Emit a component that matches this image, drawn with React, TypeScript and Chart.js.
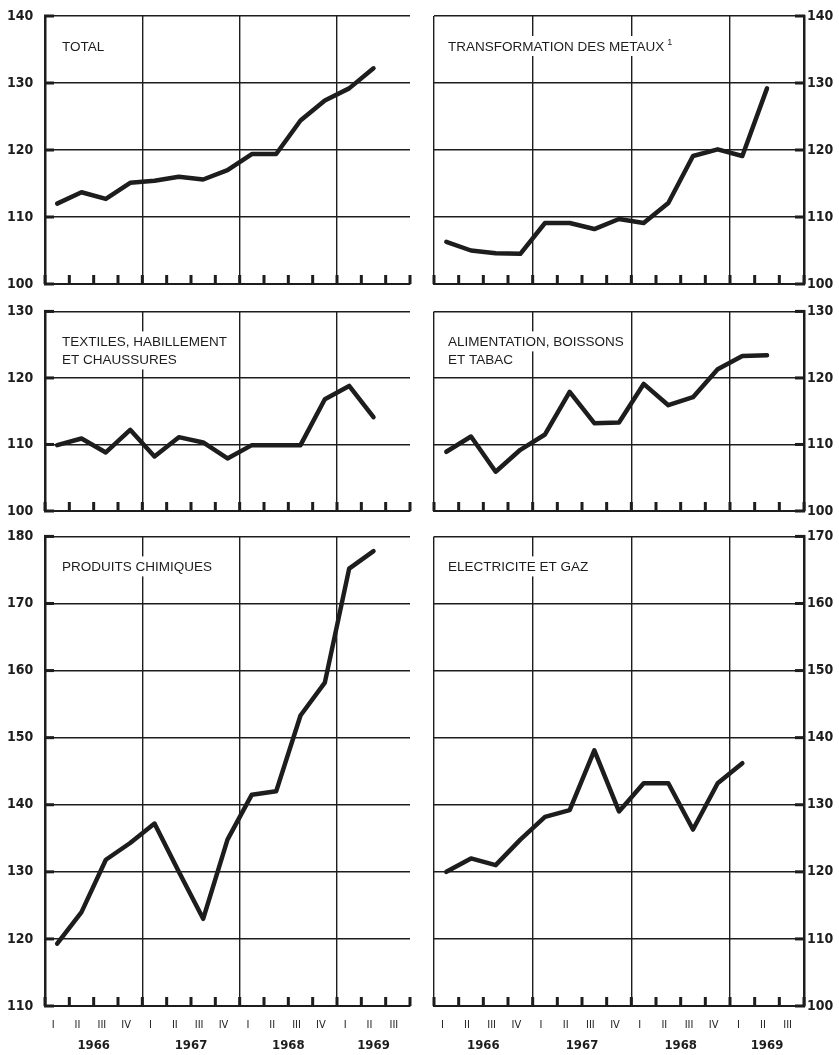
import React, { useEffect, useRef } from 'react';
import { Chart, registerables } from 'chart.js';

Chart.register(...registerables);

// ---------- data ----------
const quarterLabels = ['I', 'II', 'III', 'IV', 'I', 'II', 'III', 'IV', 'I', 'II', 'III', 'IV', 'I', 'II', 'III'];
const yearLabels = ['1966', '1967', '1968', '1969'];

const totalValues = [112.0, 113.7, 112.7, 115.1, 115.4, 116.0, 115.6, 117.0, 119.4, 119.4, 124.4, 127.4, 129.2, 132.2];
const metauxValues = [106.3, 105.0, 104.6, 104.5, 109.1, 109.1, 108.2, 109.7, 109.1, 112.1, 119.1, 120.1, 119.1, 129.2];
const textilesValues = [109.9, 110.9, 108.8, 112.2, 108.2, 111.1, 110.3, 107.9, 109.9, 109.9, 109.9, 116.8, 118.8, 114.1];
const alimentationValues = [108.9, 111.2, 105.9, 109.2, 111.5, 117.9, 113.2, 113.3, 119.1, 115.9, 117.1, 121.3, 123.3, 123.4];
const chimiquesValues = [119.3, 124.0, 131.8, 134.3, 137.2, 130.0, 123.0, 134.8, 141.5, 142.0, 153.3, 158.2, 175.2, 177.8];
const electriciteValues = [120.0, 122.0, 121.0, 124.8, 128.2, 129.2, 138.1, 129.0, 133.2, 133.2, 126.3, 133.2, 136.2];

const panels = [
  { title: ['TOTAL'], sup: '', values: totalValues, min: 100, max: 140, col: 0, row: 0 },
  { title: ['TRANSFORMATION DES METAUX'], sup: '1', values: metauxValues, min: 100, max: 140, col: 1, row: 0 },
  { title: ['TEXTILES, HABILLEMENT', 'ET CHAUSSURES'], sup: '', values: textilesValues, min: 100, max: 130, col: 0, row: 1 },
  { title: ['ALIMENTATION, BOISSONS', 'ET TABAC'], sup: '', values: alimentationValues, min: 100, max: 130, col: 1, row: 1 },
  { title: ['PRODUITS CHIMIQUES'], sup: '', values: chimiquesValues, min: 110, max: 180, col: 0, row: 2 },
  { title: ['ELECTRICITE ET GAZ'], sup: '', values: electriciteValues, min: 100, max: 170, col: 1, row: 2 },
];

// year label positions (in quarter-index units) derived from the quarter list
const yearCenters = yearLabels.map((_, k) => {
  const a = 4 * k;
  const b = Math.min(4 * k + 3, quarterLabels.length - 1);
  return (a + b) / 2;
});

// ---------- styles ----------
const INK = '#1d1d1d';
const NUM_FONT = "'Liberation Sans Narrow', 'DejaVu Sans Condensed', 'Liberation Sans', sans-serif";
const TITLE_FONT = "'Liberation Sans', 'DejaVu Sans', sans-serif";

const ROWS = [
  { top: 0, height: 300, padTop: 16, padBottom: 16 },
  { top: 300, height: 225, padTop: 10, padBottom: 14 },
  { top: 525, height: 530, padTop: 11, padBottom: 0 },
];
const COLS = [
  { left: 0, width: 420, padLeft: 7, padRight: 10, yWidth: 38, side: 'left' },
  { left: 419, width: 420, padLeft: 15, padRight: 0, yWidth: 35, side: 'right' },
];

const decorPlugin = {
  id: 'panelDecor',
  beforeDatasetsDraw(chart: any, _a: any, opts: any) {
    const { ctx, chartArea } = chart;
    const x0 = chartArea.left + (opts.side === 'left' ? 17 : 14);
    const capTop = chartArea.top + 25;
    ctx.save();
    const f = `13.5px ${TITLE_FONT}`;
    ctx.font = f;
    ctx.textBaseline = 'alphabetic';
    ctx.textAlign = 'left';
    const lines: string[] = opts.title;
    lines.forEach((line, i) => {
      const base = capTop + 10 + i * 18;
      const w = ctx.measureText(line).width;
      const extra = i === lines.length - 1 && opts.sup ? 8 : 0;
      ctx.fillStyle = '#ffffff';
      ctx.fillRect(x0 - 4, base - 15, w + extra + 8, 20);
      ctx.fillStyle = INK;
      ctx.fillText(line, x0, base);
      if (extra) {
        ctx.font = `9px ${TITLE_FONT}`;
        ctx.fillText(opts.sup, x0 + w + 3, base - 6);
        ctx.font = f;
      }
    });
    ctx.restore();
  },
  afterDatasetsDraw(chart: any, _a: any, opts: any) {
    const { ctx, chartArea, scales } = chart;
    const xs = scales.x;
    const ys = scales.y;
    ctx.save();
    ctx.fillStyle = INK;
    ys.ticks.forEach((t: any) => {
      const py = ys.getPixelForValue(t.value);
      if (opts.side === 'left') ctx.fillRect(chartArea.left - 1, py - 1.5, 10, 3);
      else ctx.fillRect(chartArea.right - 9, py - 1.5, 10, 3);
    });
    for (let i = 0; i <= quarterLabels.length; i++) {
      const px = xs.getPixelForValue(i - 0.5);
      ctx.fillRect(px - 1.5, chartArea.bottom - 9, 3, 9);
    }
    ctx.restore();
  },
};

function Panel({ p }: { p: (typeof panels)[number] }) {
  const ref = useRef<HTMLCanvasElement>(null);
  const row = ROWS[p.row];
  const col = COLS[p.col];
  const bottomRow = p.row === 2;

  useEffect(() => {
    const scales: any = {
      x: {
        type: 'category',
        labels: quarterLabels,
        offset: true,
        weight: 0,
        grid: {
          offset: true,
          drawTicks: false,
          lineWidth: 1.4,
          color: (c: any) => (c.index % 4 === 0 || c.index === quarterLabels.length ? INK : 'rgba(0,0,0,0)'),
        },
        border: { display: true, width: 2, color: INK },
        ticks: {
          display: bottomRow,
          autoSkip: false,
          maxRotation: 0,
          padding: 13,
          labelOffset: -4,
          color: INK,
          font: { family: NUM_FONT, size: 11 },
        },
        afterFit: (s: any) => {
          s.height = bottomRow ? 28 : 0;
        },
      },
      y: {
        type: 'linear',
        position: col.side,
        min: p.min,
        max: p.max,
        grid: { drawTicks: false, lineWidth: 1.4, color: INK },
        border: { display: true, width: 2.5, color: INK },
        ticks: {
          stepSize: 10,
          padding: 3,
          crossAlign: col.side === 'left' ? 'far' : 'near',
          color: INK,
          font: { family: NUM_FONT, size: 14, weight: 'bold' },
        },
        afterFit: (s: any) => {
          s.width = col.yWidth;
        },
      },
    };
    if (bottomRow) {
      scales.x2 = {
        type: 'linear',
        position: 'bottom',
        weight: 1,
        min: -0.5,
        max: quarterLabels.length - 0.5,
        grid: { display: false, drawTicks: false },
        border: { display: false },
        afterBuildTicks: (s: any) => {
          s.ticks = yearCenters.map((v) => ({ value: v }));
        },
        ticks: {
          autoSkip: false,
          maxRotation: 0,
          padding: 4,
          color: INK,
          font: { family: NUM_FONT, size: 13, weight: 'bold' },
          callback: (_v: any, i: number) => yearLabels[i],
        },
        afterFit: (s: any) => {
          s.height = 21;
        },
      };
    }

    const chart = new Chart(ref.current as HTMLCanvasElement, {
      type: 'line',
      data: {
        labels: quarterLabels,
        datasets: [
          {
            data: p.values,
            borderColor: INK,
            borderWidth: 4.5,
            pointRadius: 0,
            tension: 0,
            fill: false,
            borderJoinStyle: 'round',
            borderCapStyle: 'round',
          } as any,
        ],
      },
      options: {
        responsive: false,
        animation: false,
        devicePixelRatio: 1,
        layout: {
          padding: { top: row.padTop, bottom: row.padBottom, left: col.padLeft, right: col.padRight },
        },
        plugins: {
          legend: { display: false },
          tooltip: { enabled: false },
          panelDecor: { side: col.side, title: p.title, sup: p.sup },
        } as any,
        scales,
      },
      plugins: [decorPlugin],
    });
    return () => chart.destroy();
  }, []);

  return (
    <canvas
      ref={ref}
      width={col.width}
      height={row.height}
      style={{ position: 'absolute', left: col.left, top: row.top, width: col.width, height: row.height }}
    />
  );
}

export default function App() {
  return (
    <div style={{ position: 'absolute', left: 0, top: 0, width: 839, height: 1055, background: '#ffffff' }}>
      {panels.map((p, i) => (
        <Panel key={i} p={p} />
      ))}
    </div>
  );
}
